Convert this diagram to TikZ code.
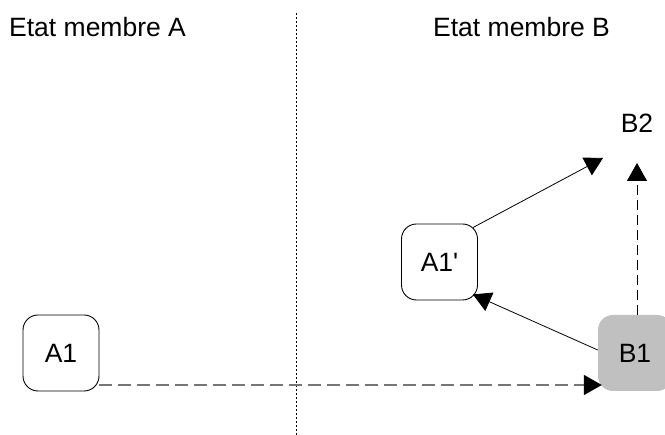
\documentclass[tikz,border=0pt]{standalone}
\usepackage{fontspec}
\setmainfont{Liberation Sans}
\usetikzlibrary{arrows.meta,calc}
\definecolor{boxgray}{RGB}{192,192,192}
\definecolor{linegray}{RGB}{118,118,118}
\begin{document}
\begin{tikzpicture}[x=1pt,y=-1pt,
  lbl/.style={font=\fontsize{26.5}{31}\selectfont, inner sep=0pt},
  box/.style={lbl, draw=black, line width=0.9pt, rounded corners=15pt,
    minimum width=76pt, minimum height=76pt, fill=white},
  gbox/.style={lbl, fill=boxgray, rounded corners=15pt,
    minimum width=74pt, minimum height=76pt},
  tipend/.style={-{Triangle[length=18pt,width=20pt,color=black]}},
  solidarrow/.style={tipend, draw=black, line width=0.8pt},
  dasharrow/.style={tipend, draw=black, line width=0.8pt, dash pattern=on 10pt off 5pt},
  grayarrow/.style={tipend, draw=linegray, line width=1.8pt, dash pattern=on 13pt off 6pt},
  divider/.style={draw=black, line width=0.7pt, dash pattern=on 2pt off 2pt}
]
\useasboundingbox (0,0) rectangle (665,435);

% divider
\coordinate (dtop) at (296,13);
\coordinate (dbot) at (296,435);
\draw[divider] (dtop) -- (dbot);

% headings
\node[lbl, anchor=base west] (ha) at (9,37) {Etat membre A};
\node[lbl, anchor=base west] (hb) at (433,37) {Etat membre B};

% boxes
\node[box] (a1) at (61,353) {A1};
\node[box] (a1p) at (439.5,262) {A1\textquotesingle};
\node[gbox] (b1) at (635,353) {B1};
\node[lbl, anchor=base] (b2) at (637,133) {B2};

% free ends
\coordinate (up) at (637,163);
\coordinate (diag) at (603,158);

% connectors
\draw[grayarrow] ($(a1.east)+(0,32)$) -- ($(b1.west)+(4,32)$);
\draw[solidarrow] ($(b1.west)+(0,-3)$) -- ($(a1p.south east)+(-5,-6)$);
\draw[solidarrow] ($(a1p.north east)+(-5,4)$) -- (diag);
\draw[dasharrow] (b1.north -| up) -- (up);
\end{tikzpicture}
\end{document}
